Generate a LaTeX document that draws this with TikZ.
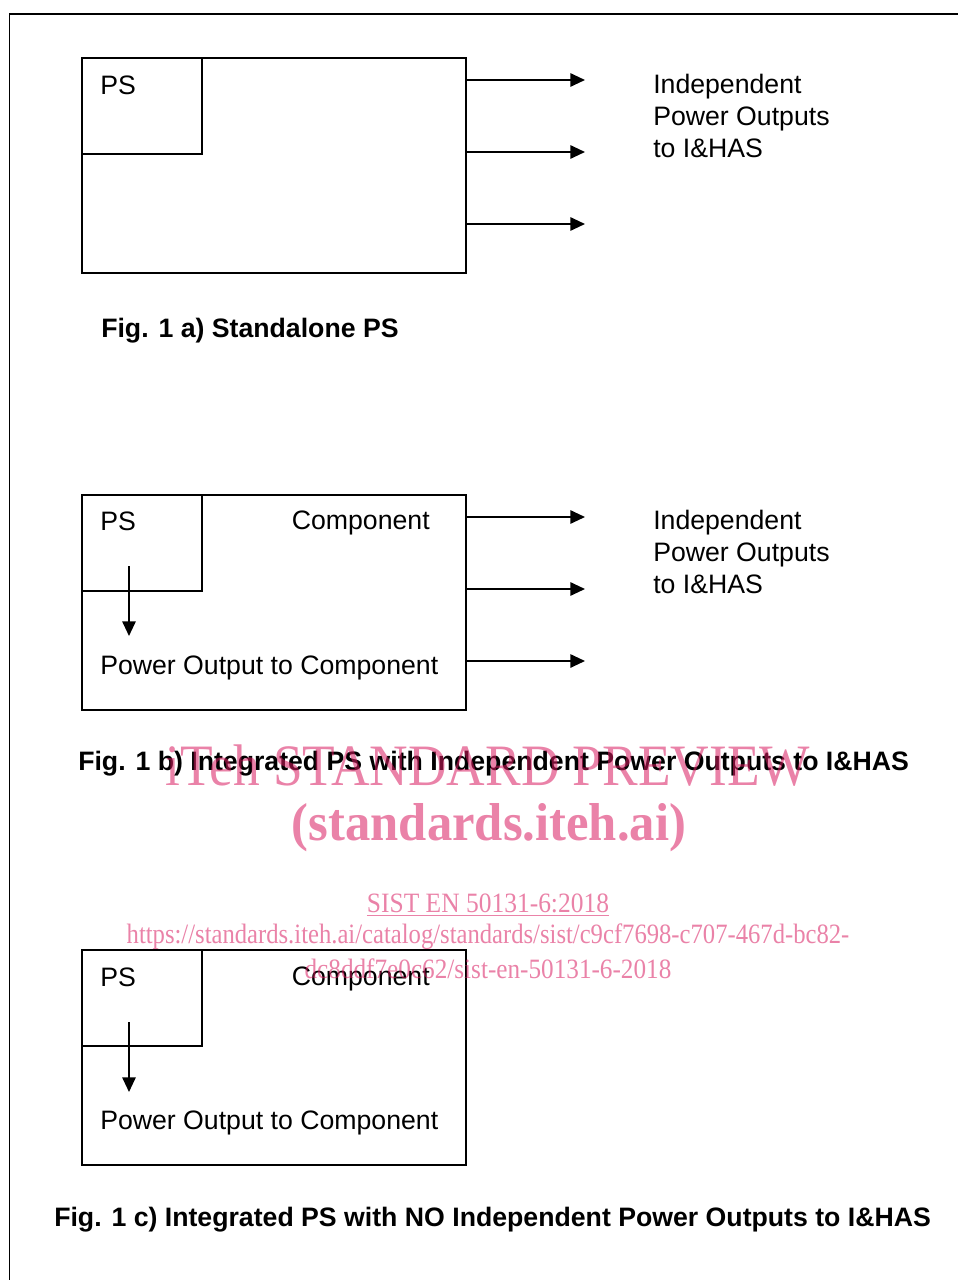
\documentclass[tikz,border=0pt]{standalone}
\usepackage{fontspec}
\setmainfont{Liberation Sans}
\newfontfamily\wmfont{Liberation Serif}
\usepackage{xcolor}
\usetikzlibrary{arrows.meta, positioning}
\definecolor{wmpink}{HTML}{D81B60}

\begin{document}
\begin{tikzpicture}[
      x=0.75pt, y=-0.75pt,
      outer/.style={draw, line width=1.3pt, minimum width=288pt, minimum height=161.25pt, anchor=north west, inner sep=0pt},
      psbox/.style={draw, line width=1.3pt, minimum width=90pt, minimum height=72pt, anchor=north west, inner sep=0pt},
      txt/.style={font=\fontsize{20}{24}\selectfont, inner sep=0pt},
      caption/.style={font=\fontsize{20}{24}\selectfont\bfseries, inner sep=0pt, anchor=west},
      line/.style={-{Triangle[length=11pt, width=10pt]}, line width=1.4pt},
      wmark/.style={text=wmpink, opacity=0.55, inner sep=0pt}
    ]
      \useasboundingbox (0,0) rectangle (957,1280);
      \draw[line width=1.3pt] (9.5,1290) -- (9.5,14) -- (967,14);

      % a) standalone
      \node[outer] (boxA) at (81,57) {};
      \node[psbox] (psA) at (81,57) {};
      \node[txt, anchor=west] (psAtext) at (100,85) {PS};
      \coordinate (a1) at (585,80);
      \coordinate (a2) at (585,152);
      \coordinate (a3) at (585,224);
      \draw[line] (boxA.east |- a1) -- (a1);
      \draw[line] (boxA.east |- a2) -- (a2);
      \draw[line] (boxA.east |- a3) -- (a3);
      \node[txt, anchor=west, align=left] (outA) at (653,116) {Independent\\Power Outputs\\to I\&HAS};
      \node[caption] (capA) at (101,331) {Fig. 1 a) Standalone PS};

      % b) integrated with outputs
      \node[outer] (boxB) at (81,494) {};
      \node[psbox] (psB) at (81,494) {};
      \node[txt, anchor=west] (psBtext) at (100,521) {PS};
      \node[txt, anchor=east] (compB) at (430,523) {Component};
      \node[txt, anchor=west] (powB) at (100,668) {Power Output to Component};
      \coordinate (bs) at (129,566);
      \coordinate (be) at (129,636);
      \draw[line] (bs) -- (be);
      \coordinate (b1) at (585,517);
      \coordinate (b2) at (585,589);
      \coordinate (b3) at (585,661);
      \draw[line] (boxB.east |- b1) -- (b1);
      \draw[line] (boxB.east |- b2) -- (b2);
      \draw[line] (boxB.east |- b3) -- (b3);
      \node[txt, anchor=west, align=left] (outB) at (653,552) {Independent\\Power Outputs\\to I\&HAS};
      \node[caption] (capB) at (78,764) {Fig. 1 b) Integrated PS with Independent Power Outputs to I\&HAS};

      % c) integrated, no outputs
      \node[outer] (boxC) at (81,949) {};
      \node[psbox] (psC) at (81,949) {};
      \node[txt, anchor=west] (psCtext) at (100,977) {PS};
      \node[txt, anchor=east] (compC) at (430,979) {Component};
      \node[txt, anchor=west] (powC) at (100,1123) {Power Output to Component};
      \coordinate (cs) at (129,1022);
      \coordinate (ce) at (129,1092);
      \draw[line] (cs) -- (ce);
      \node[caption] (capC) at (54,1220) {Fig. 1 c) Integrated PS with NO Independent Power Outputs to I\&HAS};

      % watermark
      \node[wmark, font=\wmfont\fontsize{44}{48}\selectfont] (wm1) at (488,766) {\scalebox{0.91}[1]{iTeh STANDARD PREVIEW}};
      \node[wmark, font=\wmfont\bfseries\fontsize{40}{44}\selectfont] (wm2) at (489,828) {\scalebox{0.95}[1]{(standards.iteh.ai)}};
      \node[wmark, font=\wmfont\fontsize{21}{24}\selectfont] (wm3) at (488,905) {\scalebox{0.91}[1]{\underline{SIST EN 50131-6:2018}}};
      \node[wmark, font=\wmfont\fontsize{21}{24}\selectfont] (wm4) at (488,937) {\scalebox{0.88}[1]{https://standards.iteh.ai/catalog/standards/sist/c9cf7698-c707-467d-bc82-}};
      \node[wmark, font=\wmfont\fontsize{21}{24}\selectfont] (wm5) at (488,969) {\scalebox{0.9}[1]{dc8ddf7e0c62/sist-en-50131-6-2018}};
    \end{tikzpicture}
\end{document}
